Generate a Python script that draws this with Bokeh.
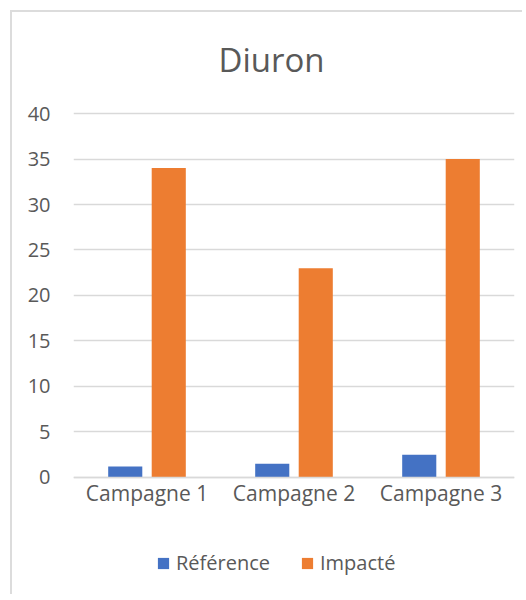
from bokeh.plotting import figure
from bokeh.models import FactorRange, Range1d, Legend, LegendItem, ColumnDataSource, Title
from bokeh.transform import dodge
from bokeh.embed import file_html
from bokeh.resources import INLINE

categories = ["Campagne 1", "Campagne 2", "Campagne 3"]
reference = [1.2, 1.5, 2.5]
impacte = [34, 23, 35]
y_ticks = [0, 5, 10, 15, 20, 25, 30, 35, 40]
series_names = ["Référence", "Impacté"]

FONT = "Open Sans"
TXT = "#595959"
GRID = "#d9d9d9"

src = ColumnDataSource(dict(cat=categories, ref=reference, imp=impacte))

# y range extends below 0 so the frame also holds the category labels and legend
p = figure(x_range=FactorRange(*categories), y_range=Range1d(-12.64, 40.99),
           width=512, height=584, output_backend="svg", toolbar_location=None,
           min_border_left=61, min_border_right=10, min_border_top=89, min_border_bottom=4)
p.styles = {"margin-left": "10px", "margin-top": "10px",
            "border-left": "2px solid #dcdcdc", "border-top": "2px solid #dcdcdc"}
p.outline_line_color = None
p.background_fill_color = "white"
p.border_fill_color = "white"

r1 = p.vbar(x=dodge("cat", -0.148, range=p.x_range), top="ref", width=0.232, source=src,
            fill_color="#4472C4", line_color=None)
r2 = p.vbar(x=dodge("cat", 0.148, range=p.x_range), top="imp", width=0.232, source=src,
            fill_color="#ED7D31", line_color=None)

p.title = Title(text="Diuron", align="left", text_font=FONT, text_font_size="33px",
                text_color=TXT, text_font_style="normal", standoff=45, offset=145)

p.xgrid.grid_line_color = None
p.ygrid.grid_line_color = GRID
p.ygrid.grid_line_width = 1.5
p.ygrid.ticker = y_ticks

p.yaxis.ticker = y_ticks
p.yaxis.axis_line_color = None
p.yaxis.major_tick_line_color = None
p.yaxis.minor_tick_line_color = None
p.yaxis.major_tick_out = 0
p.yaxis.major_tick_in = 0
p.yaxis.major_label_standoff = 23
p.yaxis.major_label_text_font = FONT
p.yaxis.major_label_text_font_size = "20px"
p.yaxis.major_label_text_color = TXT

p.xaxis.fixed_location = 0
p.xaxis.axis_line_color = GRID
p.xaxis.axis_line_width = 1.5
p.xaxis.major_tick_line_color = None
p.xaxis.minor_tick_line_color = None
p.xaxis.major_tick_out = 0
p.xaxis.major_tick_in = 0
p.xaxis.major_label_standoff = 2
p.xaxis.major_label_text_font = FONT
p.xaxis.major_label_text_font_size = "21px"
p.xaxis.major_label_text_color = TXT

legend = Legend(items=[LegendItem(label=series_names[0], renderers=[r1]),
                       LegendItem(label=series_names[1], renderers=[r2])],
                orientation="horizontal", location=(83, 16),
                label_text_font=FONT, label_text_font_size="20px", label_text_color=TXT,
                glyph_width=14, glyph_height=14, label_standoff=6, spacing=30,
                padding=4, margin=0, border_line_color=None, background_fill_alpha=0)
p.add_layout(legend, "center")

open("out.html", "w").write(file_html(p, INLINE))
